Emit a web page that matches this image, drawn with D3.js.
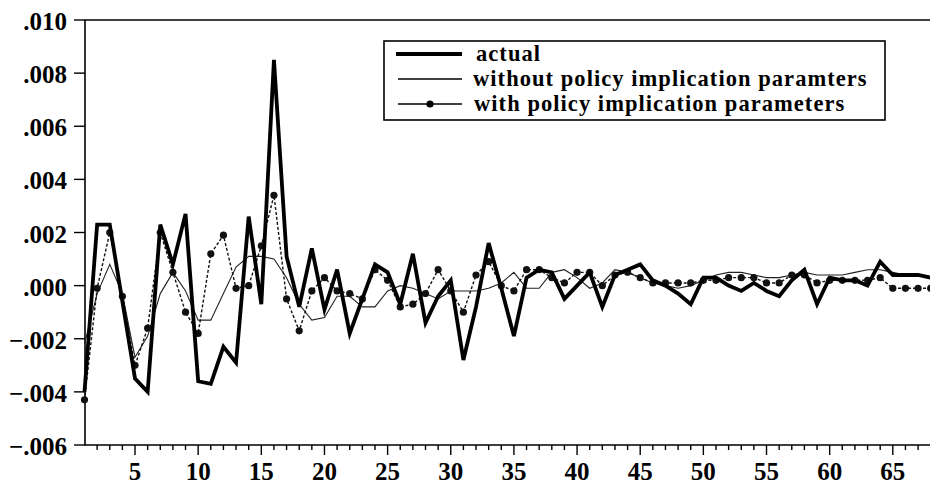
<!DOCTYPE html>
<html>
<head>
<meta charset="utf-8">
<script src="https://cdn.jsdelivr.net/npm/d3@7"></script>
<style>
  body { margin: 0; background: #fff; }
  svg { display: block; }
</style>
</head>
<body>
<div id="chart"></div>
<script>
// valori (periodi 1..68)
const periods = d3.range(1, 69);

const actual = [
  -0.0040, 0.0023, 0.0023, -0.0006, -0.0035, -0.0040, 0.0023, 0.0008, 0.0027, -0.0036,
  -0.0037, -0.0023, -0.0029, 0.0026, -0.0007, 0.0085, 0.0011, -0.0008, 0.0014, -0.0009,
  0.0006, -0.0018, -0.0005, 0.0008, 0.0005, -0.0007, 0.0012, -0.0014, -0.0004, 0.0002,
  -0.0028, -0.0008, 0.0016, -0.0001, -0.0019, 0.0003, 0.0006, 0.0005, -0.0005, 0.0000,
  0.0005, -0.0008, 0.0004, 0.0006, 0.0008, 0.0002, 0.0000, -0.0003, -0.0007, 0.0003,
  0.0003, 0.0000, -0.0002, 0.0001, -0.0002, -0.0004, 0.0002, 0.0006, -0.0007, 0.0003,
  0.0002, 0.0002, 0.0000, 0.0009, 0.0004, 0.0004, 0.0004, 0.0003
];

const withoutPolicy = [
  -0.0022, -0.0003, 0.0008, -0.0003, -0.0027, -0.0019, -0.0003, 0.0005, -0.0002, -0.0013,
  -0.0013, -0.0003, 0.0007, 0.0011, 0.0011, 0.0010, 0.0003, -0.0007, -0.0013, -0.0012,
  -0.0004, -0.0004, -0.0008, -0.0008, -0.0002, 0.0000, -0.0001, -0.0003, -0.0005, -0.0002,
  -0.0002, -0.0002, -0.0001, 0.0001, 0.0005, -0.0001, -0.0001, 0.0005, 0.0006, 0.0003,
  -0.0001, 0.0001, 0.0006, 0.0005, 0.0003, 0.0001, 0.0000, -0.0001, 0.0000, 0.0002,
  0.0004, 0.0005, 0.0005, 0.0004, 0.0003, 0.0003, 0.0004, 0.0005, 0.0004, 0.0004,
  0.0004, 0.0005, 0.0006, 0.0006, 0.0005, 0.0004, 0.0004, 0.0003
];

const withPolicy = [
  -0.0043, -0.0001, 0.0020, -0.0004, -0.0030, -0.0016, 0.0020, 0.0005, -0.0010, -0.0018,
  0.0012, 0.0019, -0.0001, 0.0000, 0.0015, 0.0034, -0.0005, -0.0017, -0.0002, 0.0003,
  -0.0002, -0.0003, -0.0005, 0.0006, 0.0002, -0.0008, -0.0007, -0.0003, 0.0006, -0.0002,
  -0.0010, 0.0004, 0.0009, 0.0000, -0.0002, 0.0006, 0.0006, 0.0003, 0.0001, 0.0005,
  0.0005, 0.0000, 0.0004, 0.0005, 0.0003, 0.0001, 0.0001, 0.0001, 0.0001, 0.0002,
  0.0002, 0.0003, 0.0003, 0.0003, 0.0001, 0.0001, 0.0004, 0.0004, 0.0001, 0.0002,
  0.0002, 0.0002, 0.0002, 0.0003, -0.0001, -0.0001, -0.0001, -0.0001
];

const yTicks = [-0.006, -0.004, -0.002, 0.000, 0.002, 0.004, 0.006, 0.008, 0.010];
const xLabels = [5, 10, 15, 20, 25, 30, 35, 40, 45, 50, 55, 60, 65];
const legendLabels = [
  "actual",
  "without policy implication paramters",
  "with policy implication parameters"
];

const width = 930;
const height = 487;
const font = "'Liberation Serif', 'Times New Roman', serif";

const svg = d3.select("#chart")
  .append("svg")
  .attr("width", width)
  .attr("height", height);

const x = d3.scaleLinear().domain([1, 68]).range([84.5, 930.7]);
const y = d3.scaleLinear().domain([-0.006, 0.010]).range([445, 20]);

// cornice: asse sinistro, asse in basso, linea in alto
svg.append("path")
  .attr("d", `M930,20 H85 V445 H930`)
  .attr("fill", "none")
  .attr("stroke", "#000")
  .attr("stroke-width", 1.6);

// tacche e etichette asse y
const fmt = d => d3.format(".3f")(d).replace("0.", ".");
const yAxis = svg.append("g");
yAxis.selectAll("line")
  .data(yTicks)
  .join("line")
  .attr("x1", 74).attr("x2", 85)
  .attr("y1", d => y(d)).attr("y2", d => y(d))
  .attr("stroke", "#000")
  .attr("stroke-width", 1.4);
yAxis.selectAll("text")
  .data(yTicks)
  .join("text")
  .attr("x", 67)
  .attr("y", d => y(d) + 10)
  .attr("text-anchor", "end")
  .attr("font-family", font)
  .attr("font-weight", "bold")
  .attr("font-size", 25)
  .text(fmt);

// tacche asse x (minori ogni periodo, maggiori ogni 5)
const xAxis = svg.append("g");
xAxis.selectAll("line")
  .data(d3.range(2, 68))
  .join("line")
  .attr("x1", d => x(d)).attr("x2", d => x(d))
  .attr("y1", 445)
  .attr("y2", d => d % 5 === 0 ? 455 : 450)
  .attr("stroke", "#000")
  .attr("stroke-width", 1.4);
xAxis.selectAll("text")
  .data(xLabels)
  .join("text")
  .attr("x", d => x(d))
  .attr("y", 480)
  .attr("text-anchor", "middle")
  .attr("font-family", font)
  .attr("font-weight", "bold")
  .attr("font-size", 25)
  .text(d => d);

const line = d3.line()
  .x((d, i) => x(periods[i]))
  .y(d => y(d));

// serie senza parametri di politica
svg.append("path")
  .datum(withoutPolicy)
  .attr("fill", "none")
  .attr("stroke", "#222")
  .attr("stroke-width", 1.1)
  .attr("d", line);

// serie con parametri di politica (tratteggiata con marcatori)
svg.append("path")
  .datum(withPolicy)
  .attr("fill", "none")
  .attr("stroke", "#111")
  .attr("stroke-width", 1.4)
  .attr("stroke-dasharray", "3,2")
  .attr("d", line);
svg.append("g")
  .selectAll("circle")
  .data(withPolicy)
  .join("circle")
  .attr("cx", (d, i) => x(periods[i]))
  .attr("cy", d => y(d))
  .attr("r", 3.6)
  .attr("fill", "#111");

// serie effettiva (linea spessa)
svg.append("path")
  .datum(actual)
  .attr("fill", "none")
  .attr("stroke", "#000")
  .attr("stroke-width", 3.8)
  .attr("stroke-linejoin", "miter")
  .attr("d", line);

// legenda
const legend = svg.append("g");
legend.append("rect")
  .attr("x", 384).attr("y", 41)
  .attr("width", 501).attr("height", 79)
  .attr("fill", "#fff")
  .attr("stroke", "#000")
  .attr("stroke-width", 1.6);

const rowY = [54, 79, 104];
const rowText = [476, 473, 474];
const rowBase = [61, 86, 111];
legend.selectAll("text")
  .data(legendLabels)
  .join("text")
  .attr("x", (d, i) => rowText[i])
  .attr("y", (d, i) => rowBase[i])
  .attr("font-family", font)
  .attr("font-weight", "bold")
  .attr("font-size", 22.5)
  .attr("letter-spacing", 1.05)
  .text(d => d);

legend.append("line")
  .attr("x1", 396).attr("x2", 462)
  .attr("y1", rowY[0]).attr("y2", rowY[0])
  .attr("stroke", "#000").attr("stroke-width", 3.8);
legend.append("line")
  .attr("x1", 398).attr("x2", 462)
  .attr("y1", rowY[1]).attr("y2", rowY[1])
  .attr("stroke", "#000").attr("stroke-width", 1.3);
legend.append("line")
  .attr("x1", 398).attr("x2", 462)
  .attr("y1", rowY[2]).attr("y2", rowY[2])
  .attr("stroke", "#000").attr("stroke-width", 1.4);
legend.append("circle")
  .attr("cx", 430).attr("cy", rowY[2])
  .attr("r", 3.6)
  .attr("fill", "#000");
</script>
</body>
</html>
